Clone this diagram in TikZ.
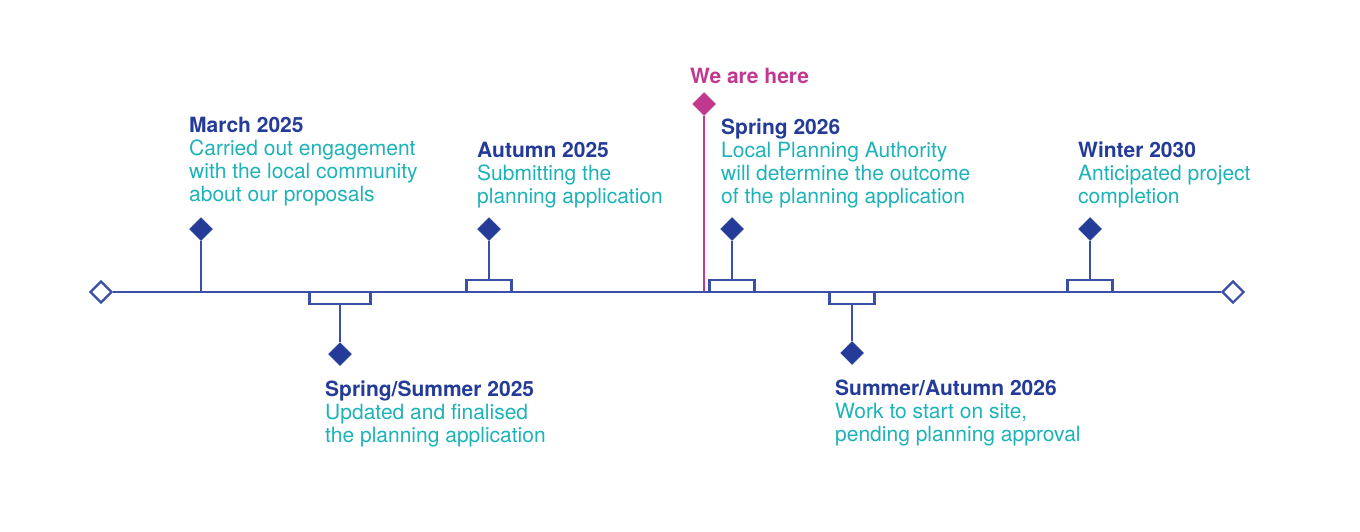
\documentclass[tikz,border=0pt]{standalone}
\usepackage{fontspec}
\setmainfont{TeX Gyre Heros}
\usetikzlibrary{shapes.geometric}
\definecolor{navy}{HTML}{243C98}
\definecolor{tealtxt}{HTML}{1DB3B8}
\definecolor{lineblue}{HTML}{3A50A8}
\definecolor{magtxt}{HTML}{C0398F}
\begin{document}
\begin{tikzpicture}[x=1pt,y=-1pt,
  dia/.style={diamond,aspect=1,inner sep=0,minimum width=23,minimum height=23,draw=navy,fill=navy,line width=0.5},
  opendia/.style={diamond,aspect=1,inner sep=0,minimum width=22,minimum height=22,draw=lineblue,line width=2.2,fill=white},
  tickbox/.style={rectangle,inner sep=0,minimum width=45,minimum height=12,draw=lineblue,line width=2.2,fill=white},
  conn/.style={draw=lineblue,line width=2.2},
  lbl/.style={anchor=north west,inner sep=0,align=left,font=\fontsize{21}{23}\selectfont,text=tealtxt},
]
\useasboundingbox[fill=white] (0,0) rectangle (1360,531);

% we are here marker
\coordinate (h0) at (704,292);
\node[dia,draw=magtxt,fill=magtxt] (h) at (704,104) {};
\draw[draw=magtxt,line width=2.2] (h0) -- (h);

% main line
\node[opendia] (L) at (101,292) {};
\node[opendia] (R) at (1233,292) {};
\draw[conn] (L) -- (R);

% ticks
\coordinate (m0) at (201,292);
\node[tickbox,minimum width=61] (b1) at (340,298) {};
\node[tickbox] (b2) at (489,286) {};
\node[tickbox] (b3) at (732,286) {};
\node[tickbox] (b4) at (852,298) {};
\node[tickbox] (b5) at (1090,286) {};

% diamonds
\node[dia] (d0) at (201,229) {};
\node[dia] (d1) at (340,354) {};
\node[dia] (d2) at (489,229) {};
\node[dia] (d3) at (732,229) {};
\node[dia] (d4) at (852,353) {};
\node[dia] (d5) at (1090,229) {};

\draw[conn] (m0) -- (d0);
\draw[conn] (b1.south) -- (d1);
\draw[conn] (b2.north) -- (d2);
\draw[conn] (b3.north) -- (d3);
\draw[conn] (b4.south) -- (d4);
\draw[conn] (b5.north) -- (d5);

% labels
\node[lbl,font=\fontsize{21}{23}\selectfont\bfseries,text=magtxt] (here) at (690,68) {We are here};
\node[lbl] (t0) at (189,117) {\textbf{\textcolor{navy}{March 2025}}\\Carried out engagement\\with the local community\\about our proposals};
\node[lbl] (t1) at (325,381) {\textbf{\textcolor{navy}{Spring/Summer 2025}}\\Updated and finalised\\the planning application};
\node[lbl] (t2) at (477,142) {\textbf{\textcolor{navy}{Autumn 2025}}\\Submitting the\\planning application};
\node[lbl] (t3) at (721,119) {\textbf{\textcolor{navy}{Spring 2026}}\\Local Planning Authority\\will determine the outcome\\of the planning application};
\node[lbl] (t4) at (835,380) {\textbf{\textcolor{navy}{Summer/Autumn 2026}}\\Work to start on site,\\pending planning approval};
\node[lbl] (t5) at (1078,142) {\textbf{\textcolor{navy}{Winter 2030}}\\Anticipated project\\completion};
\end{tikzpicture}
\end{document}
